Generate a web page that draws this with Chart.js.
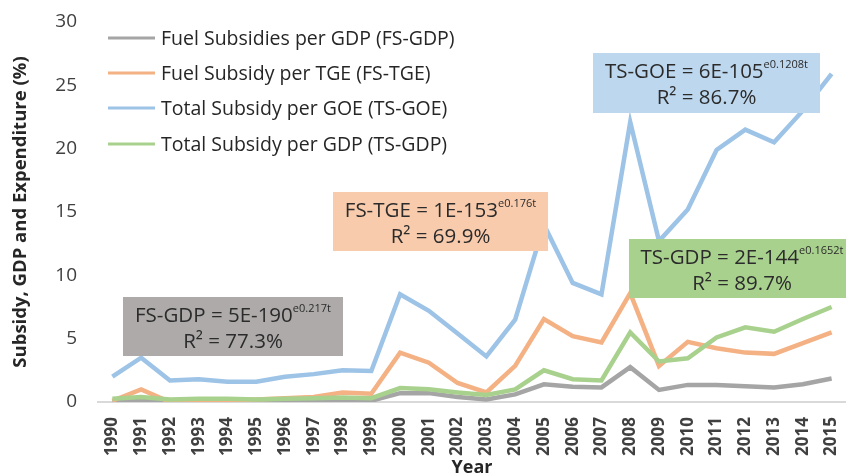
<!DOCTYPE html>
<html lang="en">
<head>
   <meta charset="UTF-8" />
   <title>Subsidy, GDP and Expenditure</title>
   <style>
      body {
         margin: 0;
         padding: 0;
         background-color: #ffffff;
      }
      .chart-container {
         width: 846px;
         height: 475px;
      }
   </style>
   <script src="https://cdn.jsdelivr.net/npm/chart.js@4.4.0/dist/chart.umd.min.js"></script>
</head>
<body>
   <div class="chart-container">
      <canvas id="lineChart" width="846" height="475"></canvas>
   </div>

   <script>
      const years = ['1990', '1991', '1992', '1993', '1994', '1995', '1996', '1997', '1998', '1999',
                     '2000', '2001', '2002', '2003', '2004', '2005', '2006', '2007', '2008', '2009',
                     '2010', '2011', '2012', '2013', '2014', '2015'];

      const fsGdp = [0.05, 0.2, 0.05, 0.05, 0.05, 0.05, 0.08, 0.1, 0.1, 0.1,
                     0.7, 0.7, 0.4, 0.2, 0.6, 1.4, 1.2, 1.15, 2.75, 0.95,
                     1.35, 1.35, 1.25, 1.15, 1.4, 1.85];

      const fsTge = [0.1, 1.0, 0.0, 0.05, 0.1, 0.2, 0.3, 0.4, 0.75, 0.65,
                     3.9, 3.1, 1.5, 0.75, 2.85, 6.55, 5.2, 4.7, 8.6, 2.85,
                     4.75, 4.25, 3.9, 3.8, 4.65, 5.5];

      const tsGoe = [2.0, 3.5, 1.7, 1.8, 1.6, 1.6, 2.0, 2.2, 2.5, 2.45,
                     8.5, 7.2, 5.4, 3.6, 6.5, 14.0, 9.4, 8.5, 22.1, 12.7,
                     15.2, 19.9, 21.5, 20.5, 23.0, 25.9];

      const tsGdp = [0.25, 0.4, 0.2, 0.25, 0.25, 0.2, 0.25, 0.3, 0.35, 0.3,
                     1.1, 1.0, 0.75, 0.55, 1.0, 2.5, 1.8, 1.7, 5.5, 3.2,
                     3.45, 5.1, 5.9, 5.55, 6.55, 7.5];

      const yTicks = [0, 5, 10, 15, 20, 25, 30];

      const seriesNames = ['Fuel Subsidies per GDP (FS-GDP)', 'Fuel Subsidy per TGE (FS-TGE)',
                           'Total Subsidy per GOE (TS-GOE)', 'Total Subsidy per GDP (TS-GDP)'];
      const seriesColors = ['#a5a5a5', '#f4b183', '#9dc3e6', '#a9d18e'];

      // trend equation boxes (pixel boxes, text centred inside)
      const trendBoxes = [
         { x: 123, y: 297, w: 220, h: 59, fill: '#aeaaaa', main: 'FS-GDP = 5E-190', sup: 'e0.217t', r2: 'R² = 77.3%' },
         { x: 333, y: 192, w: 215, h: 59, fill: '#f8cbad', main: 'FS-TGE = 1E-153', sup: 'e0.176t', r2: 'R² = 69.9%' },
         { x: 593, y: 53, w: 227, h: 60, fill: '#bdd7ee', main: 'TS-GOE = 6E-105', sup: 'e0.1208t', r2: 'R² = 86.7%' },
         { x: 629, y: 239, w: 226, h: 59, fill: '#a9d18e', main: 'TS-GDP = 2E-144', sup: 'e0.1652t', r2: 'R² = 89.7%' }
      ];

      const FONT = "'Open Sans', 'Liberation Sans', sans-serif";

      const legendPlugin = {
         id: 'sideLegend',
         afterDraw(chart) {
            const ctx = chart.ctx;
            ctx.save();
            ctx.font = '19.5px ' + FONT;
            ctx.textBaseline = 'middle';
            const rows = [38, 73, 108, 144];
            chart.data.datasets.forEach((ds, i) => {
               ctx.strokeStyle = ds.borderColor;
               ctx.lineWidth = 3;
               ctx.beginPath();
               ctx.moveTo(108, rows[i]);
               ctx.lineTo(155, rows[i]);
               ctx.stroke();
               ctx.fillStyle = '#262626';
               ctx.fillText(ds.label, 161, rows[i] + 1);
            });
            ctx.restore();
         }
      };

      const boxPlugin = {
         id: 'trendBoxes',
         afterDatasetsDraw(chart) {
            const ctx = chart.ctx;
            ctx.save();
            trendBoxes.forEach(b => {
               ctx.fillStyle = b.fill;
               ctx.fillRect(b.x, b.y, b.w, b.h);
               const cx = b.x + b.w / 2;
               ctx.fillStyle = '#2b2b2b';
               ctx.textBaseline = 'middle';
               ctx.font = '20.5px ' + FONT;
               const mw = ctx.measureText(b.main).width;
               ctx.font = '11px ' + FONT;
               const sw = ctx.measureText(b.sup).width;
               const start = cx - (mw + sw) / 2;
               ctx.textAlign = 'left';
               ctx.font = '20.5px ' + FONT;
               ctx.fillText(b.main, start, b.y + 19);
               ctx.font = '11px ' + FONT;
               ctx.fillText(b.sup, start + mw, b.y + 12);
               ctx.font = '20.5px ' + FONT;
               ctx.textAlign = 'center';
               ctx.fillText(b.r2, cx, b.y + 45);
            });
            ctx.restore();
         }
      };

      const datasets = [fsGdp, fsTge, tsGoe, tsGdp].map((values, i) => ({
         label: seriesNames[i],
         data: values,
         borderColor: seriesColors[i],
         backgroundColor: seriesColors[i],
         borderWidth: 4.5,
         pointRadius: 0,
         tension: 0,
         fill: false,
         order: 4 - i
      }));

      const ctx = document.getElementById('lineChart').getContext('2d');
      new Chart(ctx, {
         type: 'line',
         data: {
            labels: years,
            datasets: datasets
         },
         options: {
            responsive: false,
            animation: false,
            layout: {
               padding: { top: 22, right: 0, left: 0, bottom: 0 }
            },
            plugins: {
               legend: { display: false },
               tooltip: { enabled: false }
            },
            scales: {
               x: {
                  offset: true,
                  grid: { display: false, drawTicks: false },
                  border: { display: true, color: '#d9d9d9', width: 2 },
                  ticks: {
                     color: '#404040',
                     font: { family: FONT, size: 17, weight: 'bold' },
                     minRotation: 90,
                     maxRotation: 90,
                     padding: 15,
                     autoSkip: false
                  },
                  title: {
                     display: true,
                     text: 'Year',
                     color: '#262626',
                     font: { family: FONT, size: 18, weight: 'bold' },
                     padding: { top: 0, bottom: -4 }
                  },
                  afterFit(scale) {
                     scale.height = 73;
                     scale.paddingLeft = 0;
                     scale.paddingRight = 0;
                  }
               },
               y: {
                  min: 0,
                  max: 30,
                  afterBuildTicks(scale) {
                     scale.ticks = yTicks.map(v => ({ value: v }));
                  },
                  grid: { display: false, drawTicks: false },
                  border: { display: false },
                  ticks: {
                     color: '#404040',
                     font: { family: FONT, size: 19 },
                     padding: 21
                  },
                  title: {
                     display: true,
                     text: 'Subsidy, GDP and Expenditure (%)',
                     color: '#262626',
                     font: { family: FONT, size: 18.5, weight: 'bold' },
                     padding: { top: 10, bottom: 0 }
                  },
                  afterFit(scale) {
                     scale.width = 98;
                     scale.paddingTop = 0;
                     scale.paddingBottom = 0;
                  }
               }
            }
         },
         plugins: [boxPlugin, legendPlugin]
      });
   </script>
</body>
</html>
